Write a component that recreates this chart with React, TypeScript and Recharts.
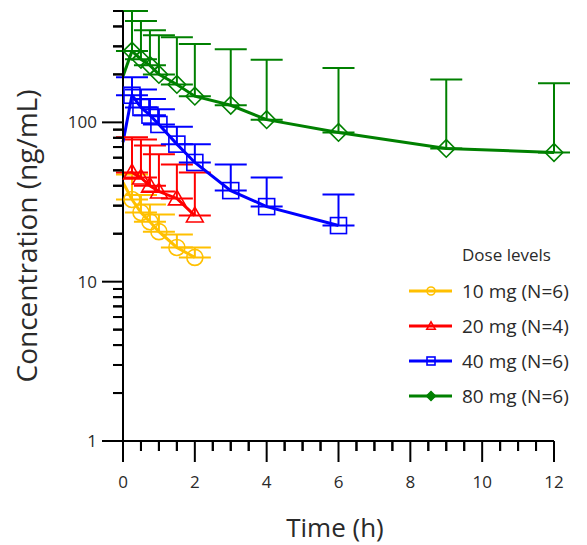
import React from 'react';
import { ComposedChart, Line, XAxis, YAxis, ErrorBar, Legend } from 'recharts';

const FONT = '"Open Sans", "Noto Sans", "DejaVu Sans", sans-serif';
const TEXT = '#2a2a2a';

const doseLabels = ['10 mg (N=6)', '20 mg (N=4)', '40 mg (N=6)', '80 mg (N=6)'];
const doseColors = ['#FFC000', '#FF0000', '#0000FF', '#008000'];
const legendTitle = 'Dose levels';
const xTitle = 'Time (h)';
const yTitle = 'Concentration (ng/mL)';

const time10 = [0.25, 0.5, 0.75, 1, 1.5, 2];
const mean10 = [32.8, 27.2, 23.8, 20.6, 16.4, 14.2];
const upper10 = [47, 35, 30.5, 26.4, 19.8, 16.4];

const time20 = [0.25, 0.5, 0.75, 1, 1.5, 2];
const mean20 = [48.5, 45, 40, 36.8, 33.3, 26];
const upper20 = [80.5, 78, 71.6, 63, 54.4, 48.5];

const time40 = [0.25, 0.5, 0.75, 1, 1.5, 2, 3, 4, 6];
const mean40 = [148, 124, 111, 97, 73, 56, 37.3, 29.6, 22.5];
const upper40 = [192, 161, 140, 121, 94, 73, 54.4, 45, 35.2];

const time80 = [0.25, 0.5, 0.75, 1, 1.5, 2, 3, 4, 6, 9, 12];
const mean80 = [280, 249, 228, 200, 173, 146, 128, 104, 86.5, 68.6, 64.7];
const upper80 = [500, 432, 379, 352, 342, 310, 288, 247, 219, 186, 176];

// value at time 0 (start of each line at the axis)
const startConc = [42, 47, 75, 195];

const xTicks = [0, 0.5, 1, 1.5, 2, 2.5, 3, 3.5, 4, 4.5, 5, 5.5, 6, 6.5, 7, 7.5, 8, 8.5, 9, 9.5, 10, 10.5, 11, 11.5, 12];
const xLabels = [0, 2, 4, 6, 8, 10, 12];
const xMinor = [0.5, 1, 1.5, 2.5, 3, 3.5, 4.5, 5, 5.5, 6.5, 7, 7.5, 8.5, 9, 9.5, 10.5, 11, 11.5];
const yTicks = [1, 2, 3, 4, 5, 6, 7, 8, 9, 10, 20, 30, 40, 50, 60, 70, 80, 90, 100, 200, 300, 400, 500];
const yLabels = [1, 10, 100];
const yMinor = [2, 3, 4, 5, 6, 7, 8, 9, 20, 30, 40, 50, 60, 70, 80, 90, 200, 300, 400, 500];

const build = (t: number[], m: number[], u: number[]) =>
  t.map((tt, i) => ({ t: tt, mean: m[i], err: [0, u[i] - m[i]] }));

const series = [
  build(time10, mean10, upper10),
  build(time20, mean20, upper20),
  build(time40, mean40, upper40),
  build(time80, mean80, upper80),
];

const leadIns = series.map((s, i) => [
  { t: 0, mean: startConc[i] },
  { t: s[0].t, mean: s[0].mean },
]);

const xMinorData = xMinor.map((t) => ({ t, v: 1 }));
const yMinorData = yMinor.map((v) => ({ t: 0, v }));

const Marker = ({ kind, cx, cy, color, size, fill }: any) => {
  const sw = 1.6;
  if (kind === 0) return <circle cx={cx} cy={cy} r={size} fill={fill || 'none'} stroke={color} strokeWidth={sw} />;
  if (kind === 1)
    return (
      <polygon
        points={`${cx},${cy - size * 1.05} ${cx - size * 1.05},${cy + size * 0.8} ${cx + size * 1.05},${cy + size * 0.8}`}
        fill={fill || 'none'}
        stroke={color}
        strokeWidth={sw}
      />
    );
  if (kind === 2)
    return <rect x={cx - size} y={cy - size} width={size * 2} height={size * 2} fill={fill || 'none'} stroke={color} strokeWidth={sw} />;
  return (
    <polygon
      points={`${cx},${cy - size * 1.1} ${cx + size * 1.1},${cy} ${cx},${cy + size * 1.1} ${cx - size * 1.1},${cy}`}
      fill={fill || 'none'}
      stroke={color}
      strokeWidth={sw}
    />
  );
};

const makeDot = (kind: number, color: string) => (props: any) => {
  const { cx, cy, index } = props;
  if (cx == null || cy == null) return <g key={`d-${index}`} />;
  return (
    <g key={`d-${kind}-${index}`}>
      <Marker kind={kind} cx={cx} cy={cy} color={color} size={8} />
    </g>
  );
};

const xMinorDot = (props: any) => {
  const { cx, cy, index } = props;
  if (cx == null || cy == null) return <g key={`xm-${index}`} />;
  return (
    <g key={`xm-${index}`}>
      <circle cx={cx} cy={cy} r={0.3} fill="#000" />
      <rect x={cx - 1} y={cy} width={2} height={10} fill="#000" />
    </g>
  );
};

const yMinorDot = (props: any) => {
  const { cx, cy, index } = props;
  if (cx == null || cy == null) return <g key={`ym-${index}`} />;
  return (
    <g key={`ym-${index}`}>
      <circle cx={cx} cy={cy} r={0.3} fill="#000" />
      <rect x={cx - 10} y={cy - 1} width={10} height={2} fill="#000" />
    </g>
  );
};

const YTick = (props: any) => {
  const { x, y, payload } = props;
  const v = payload.value;
  const major = yLabels.indexOf(v) >= 0;
  if (!major) return <rect x={x - 10} y={y - 1} width={10} height={2} fill="#000" />;
  return (
    <g>
      <line x1={x - 21} x2={x} y1={y} y2={y} stroke="#000" strokeWidth={2} />
      <text x={x - 26} y={y} dy="0.36em" textAnchor="end" fontFamily={FONT} fontSize={17} fill={TEXT}>
        {String(v)}
      </text>
    </g>
  );
};

const XTick = (props: any) => {
  const { x, y, payload } = props;
  const v = payload.value;
  const major = xLabels.indexOf(v) >= 0;
  if (!major) return <rect x={x - 1} y={y} width={2} height={10} fill="#000" />;
  return (
    <g>
      <line x1={x} x2={x} y1={y} y2={y + 21} stroke="#000" strokeWidth={2} />
      <text x={x} y={y + 47} textAnchor="middle" fontFamily={FONT} fontSize={17} fill={TEXT}>
        {String(v)}
      </text>
    </g>
  );
};

const Overlay = () => (
  <svg width={587} height={545} style={{ display: 'block', pointerEvents: 'none' }}>
    <text x={335} y={537} textAnchor="middle" fontFamily={FONT} fontSize={26} fill={TEXT}>
      {xTitle}
    </text>
    <text x={0} y={0} transform="translate(37, 236) rotate(-90)" textAnchor="middle" fontFamily={FONT} fontSize={28} fill={TEXT}>
      {yTitle}
    </text>
    <g transform="translate(400, 238)">
      <text x={62} y={23} fontFamily={FONT} fontSize={17} fill={TEXT}>
        {legendTitle}
      </text>
      {doseLabels.map((lab, i) => {
        const cy = 53 + i * 35;
        return (
          <g key={lab}>
            <line x1={9} x2={52} y1={cy} y2={cy} stroke={doseColors[i]} strokeWidth={3} />
            <Marker kind={i} cx={31} cy={cy} color={doseColors[i]} size={4} fill={i === 3 ? doseColors[i] : 'none'} />
            <text x={62} y={cy} dy="0.36em" fontFamily={FONT} fontSize={19} fill={TEXT}>
              {lab}
            </text>
          </g>
        );
      })}
    </g>
  </svg>
);

export default function App() {
  return (
    <div style={{ position: 'absolute', left: 0, top: 0 }}>
      <ComposedChart width={587} height={545} margin={{ top: 11, right: 33, bottom: 0, left: 0 }}>
        <XAxis
          type="number"
          dataKey="t"
          domain={[0, 12]}
          ticks={xTicks}
          interval={0}
          height={104}
          tickSize={0}
          tickMargin={0}
          tickLine={false}
          tick={<XTick />}
          stroke="#000"
          strokeWidth={2}
        />
        <YAxis
          type="number"
          scale="log"
          domain={[1, 500]}
          ticks={yTicks}
          interval={0}
          width={123}
          tickSize={0}
          tickMargin={0}
          tickLine={false}
          tick={<YTick />}
          stroke="#000"
          strokeWidth={2}
        />
        <Line data={xMinorData} dataKey="v" stroke="none" dot={xMinorDot} activeDot={false} legendType="none" isAnimationActive={false} />
        <Line data={yMinorData} dataKey="v" stroke="none" dot={yMinorDot} activeDot={false} legendType="none" isAnimationActive={false} />
        {series.map((d, i) => (
          <Line
            key={`lead-${i}`}
            data={leadIns[i]}
            dataKey="mean"
            type="linear"
            stroke={doseColors[i]}
            strokeWidth={3}
            dot={false}
            activeDot={false}
            legendType="none"
            isAnimationActive={false}
          />
        ))}
        {series.map((d, i) => (
          <Line
            key={`s-${i}`}
            data={d}
            dataKey="mean"
            name={doseLabels[i]}
            type="linear"
            stroke={doseColors[i]}
            strokeWidth={3}
            dot={makeDot(i, doseColors[i])}
            activeDot={false}
            isAnimationActive={false}
          >
            <ErrorBar dataKey="err" direction="y" width={16} strokeWidth={2} stroke={doseColors[i]} isAnimationActive={false} />
          </Line>
        ))}
        <Legend
          layout="vertical"
          align="center"
          verticalAlign="middle"
          content={() => <Overlay />}
          wrapperStyle={{ left: 0, top: 0, width: 587, height: 545, pointerEvents: 'none' }}
        />
      </ComposedChart>
    </div>
  );
}
